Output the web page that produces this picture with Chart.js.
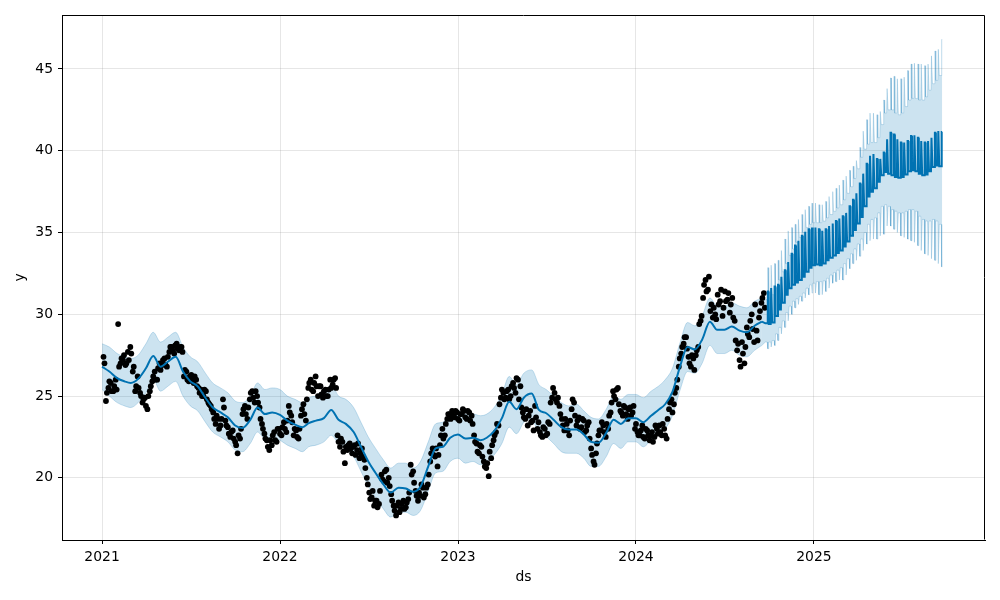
<!DOCTYPE html>
<html>
<head>
<meta charset="utf-8">
<script src="https://cdn.jsdelivr.net/npm/chart.js@4/dist/chart.umd.min.js"></script>
<style>
html,body{margin:0;padding:0;background:#fff;}
canvas{display:block;}
</style>
</head>
<body>
<canvas id="c" width="1000" height="600"></canvas>
<script>
// ---------- DATA ----------
const xTickYears = [2021, 2022, 2023, 2024, 2025];
const yTickValues = [20, 25, 30, 35, 40, 45];

// Observed values y (black dots): two interleaved readings of the dot clouds, each one every 5 days
const obsStartDate = '2021-01-04';
const obsStartDate2 = '2021-01-06';
const obsStepDays = 5;
const obsValues = [
  27.4, 24.7, 25.5, 25.8,  25.3, 26.0, 29.4, 27.0,  27.2, 26.9, 27.7, 28.0,
  26.5, 25.3, 26.2, 25.2,  24.6, 24.9, 24.2, 25.3,  25.9, 26.5, 26.0, 27.0,
  26.9, 27.3, 26.8, 27.7,  28.0, 27.6, 28.2, 27.8,  28.0, 26.2, 26.5, 25.9,
  26.3, 25.8, 26.0, 25.5,  25.4, 25.0, 25.3, 24.6,  24.4, 24.0, 23.3, 23.6,
  23.2, 24.8, 23.5, 23.1,  22.5, 22.9, 22.2, 21.5,  22.4, 23.9, 24.4, 23.6,
  24.8, 25.3, 24.6, 25.0,  24.3, 23.3, 22.7, 22.3,  21.7, 22.0, 22.8, 22.2,
  23.0, 22.6, 23.4, 22.8,  24.4, 23.8, 22.6, 22.9,  22.4, 23.8, 24.5, 23.5,
  25.5, 26.0, 25.3, 26.2,  25.0, 25.6, 24.9, 25.4,  25.0, 26.0, 25.7, 26.1,
  22.6, 21.9, 22.2, 20.9,  21.7, 22.1, 21.5, 22.0,  21.7, 21.2, 21.8, 21.1,
  20.0, 19.1, 18.8, 18.3,  18.6, 18.4, 20.2, 19.8,  20.5, 20.0, 19.0, 18.3,
  17.7, 18.5, 18.1, 18.6,  18.2, 18.7, 20.8, 20.4,  19.2, 18.6, 18.9, 19.4,
  19.0, 19.6, 21.0, 21.8,  21.3, 20.7, 22.0, 23.0,  22.6, 23.6, 23.9, 24.1,
  23.7, 24.0, 23.5, 23.9,  24.1, 23.6, 24.0, 23.8,  22.6, 22.1, 21.5, 21.9,
  21.0, 20.6, 20.1, 21.2,  22.3, 22.8, 23.2, 24.9,  25.2, 24.9, 25.4, 25.0,
  25.8, 25.2, 26.0, 25.6,  24.0, 23.6, 23.2, 24.1,  23.5, 24.4, 23.0, 22.8,
  22.5, 23.0, 22.7, 23.3,  24.9, 25.2, 24.6, 24.4,  23.6, 22.9, 23.3, 22.6,
  24.2, 24.6, 23.2, 23.7,  23.1, 23.5, 22.9, 23.4,  21.8, 21.0, 21.5, 22.6,
  22.9, 23.2, 22.5, 23.0,  24.0, 25.3, 24.8, 25.5,  24.1, 23.8, 24.3, 23.6,
  24.3, 24.0, 23.0, 22.8,  22.6, 23.2, 22.4, 22.9,  22.3, 22.8, 22.5, 23.0,
  23.2, 22.6, 23.0, 22.4,  24.2, 24.8, 24.5, 25.5,  26.8, 27.6, 28.2, 28.6,
  27.4, 26.8, 27.3, 27.5,  28.0, 29.6, 31.0, 32.1,  31.5, 30.2, 29.8, 30.0,
  31.2, 30.8, 29.9, 31.4,  30.9, 30.1, 31.0, 29.6,  27.8, 27.2, 28.3, 27.0,
  29.2, 28.6, 30.0, 28.3,  29.0, 29.8, 30.7, 31.3
];
const obsValues2 = [
  27.0, 25.2, 25.9, 25.3,  25.6, 25.4, 26.8, 27.3,  27.5, 27.0, 27.2, 27.6,
  26.8, 25.6, 25.5, 25.0,  24.8, 24.4, 25.0, 25.6,  26.2, 26.0, 26.7, 26.6,
  27.2, 26.9, 27.4, 28.0,  27.8, 28.1, 27.9, 28.0,  27.7, 26.6, 26.0, 26.2,
  26.0, 26.2, 25.6, 25.2,  25.0, 25.4, 24.8, 24.5,  24.2, 23.6, 23.8, 23.0,
  23.6, 24.3, 23.2, 22.7,  22.8, 22.4, 22.0, 22.6,  23.0, 24.2, 23.9, 24.3,
  25.2, 24.9, 25.3, 24.6,  23.6, 23.0, 22.4, 21.9,  22.3, 22.6, 22.3, 23.0,
  22.7, 23.1, 23.0, 23.5,  24.0, 23.4, 23.0, 22.5,  23.0, 24.2, 23.9, 24.8,
  25.8, 25.4, 25.8, 25.6,  25.6, 25.1, 25.3, 25.0,  25.4, 25.5, 26.0, 25.5,
  22.2, 22.4, 21.6, 21.9,  22.0, 21.8, 21.9, 21.4,  22.1, 21.5, 21.3, 20.6,
  19.6, 18.7, 19.2, 18.6,  18.2, 19.2, 19.9, 20.4,  19.7, 19.5, 18.6, 18.0,
  18.3, 17.9, 18.4, 18.1,  18.5, 19.1, 20.2, 19.7,  18.9, 19.1, 19.6, 18.8,
  19.4, 20.2, 21.5, 21.4,  21.8, 21.4, 22.6, 22.4,  23.3, 23.9, 23.6, 23.8,
  24.1, 23.6, 23.9, 24.2,  23.7, 24.1, 23.5, 23.3,  22.2, 21.6, 22.0, 21.3,
  20.7, 20.9, 21.6, 22.0,  22.6, 23.3, 24.5, 25.4,  24.8, 25.3, 24.8, 25.6,
  25.5, 26.1, 24.8, 24.3,  23.7, 24.2, 23.8, 23.4,  22.9, 23.7, 23.4, 22.6,
  23.1, 22.6, 23.4, 24.6,  25.5, 24.8, 24.9, 23.9,  23.2, 23.6, 22.9, 23.5,
  24.8, 23.8, 23.5, 23.0,  23.6, 22.8, 23.2, 22.4,  21.4, 20.8, 22.1, 22.9,
  23.4, 22.8, 23.3, 23.8,  24.6, 25.0, 25.4, 24.5,  24.0, 24.4, 23.9, 24.2,
  23.8, 24.4, 23.3, 22.6,  22.9, 22.5, 23.0, 22.6,  22.6, 22.2, 23.2, 22.7,
  22.8, 23.3, 22.6, 23.6,  24.6, 24.0, 25.2, 26.0,  27.3, 28.0, 28.6, 27.9,
  27.0, 27.5, 26.6, 27.8,  29.4, 29.9, 31.8, 31.4,  32.3, 30.6, 30.4, 29.7,
  30.6, 31.5, 30.4, 30.8,  31.3, 30.6, 29.8, 28.4,  28.2, 26.8, 27.6, 28.0,
  28.8, 29.6, 29.1, 30.6,  28.4, 30.2, 31.0, 30.4
];

// Fitted yhat and interval over the history, on the 1st and 16th of each month from Jan 2021
const histYhat = [
  26.8, 26.5, 26.1, 25.9, 25.8, 26.05, 26.7, 27.45, 26.8, 27.1,
  27.4, 26.5, 25.9, 25.6, 24.9, 24.3, 24.0, 23.7, 23.2, 23.05,
  23.55, 24.3, 23.9, 24.0, 23.85, 23.5, 23.25, 23.1, 23.35, 23.5,
  23.65, 24.15, 23.55, 23.3, 22.8, 21.9, 21.0, 20.3, 19.6, 19.1,
  19.4, 19.35, 19.15, 19.45, 20.7, 21.8, 21.9, 22.45, 22.65, 22.4,
  22.45, 22.3, 22.45, 22.85, 23.65, 24.65, 24.2, 24.9, 25.15, 24.15,
  23.95, 23.55, 23.1, 22.95, 22.95, 22.65, 22.2, 22.15, 22.75, 23.55,
  23.3, 23.65, 23.65, 23.4, 23.8, 24.15, 24.5, 25.25, 26.85, 28.0,
  27.85, 28.45, 29.55, 29.05, 29.05, 29.25, 29.0, 28.9, 29.3, 29.55
];
const histUpper = [
  28.2, 28.0, 27.6, 27.4, 27.3, 27.5, 28.2, 28.9, 28.3, 28.6,
  28.9, 28.0, 27.4, 27.1, 26.4, 25.8, 25.5, 25.2, 24.7, 24.6,
  25.0, 25.8, 25.4, 25.5, 25.4, 25.0, 24.8, 24.6, 24.9, 25.0,
  25.1, 25.7, 25.0, 24.8, 24.3, 23.4, 22.5, 21.8, 21.1, 20.6,
  20.9, 20.9, 20.6, 21.0, 22.2, 23.3, 23.4, 23.9, 24.1, 23.9,
  23.9, 23.8, 23.9, 24.3, 25.1, 26.2, 25.7, 26.4, 26.6, 25.7,
  25.4, 25.0, 24.6, 24.4, 24.5, 24.1, 23.7, 23.6, 24.2, 25.0,
  24.8, 25.1, 25.1, 24.9, 25.3, 25.6, 26.0, 26.7, 28.3, 29.5,
  29.3, 29.9, 31.0, 30.5, 30.5, 30.7, 30.5, 30.4, 30.8, 31.0
];
const histLower = [
  25.4, 25.0, 24.6, 24.4, 24.3, 24.6, 25.2, 26.0, 25.3, 25.6,
  25.9, 25.0, 24.4, 24.1, 23.4, 22.8, 22.5, 22.2, 21.7, 21.6,
  22.1, 22.8, 22.4, 22.5, 22.3, 22.0, 21.8, 21.6, 21.9, 22.0,
  22.2, 22.6, 22.1, 21.8, 21.3, 20.4, 19.5, 18.8, 18.1, 17.6,
  17.9, 17.9, 17.7, 18.0, 19.2, 20.3, 20.4, 21.0, 21.2, 20.9,
  21.0, 20.8, 21.0, 21.4, 22.1, 23.1, 22.7, 23.4, 23.6, 22.7,
  22.5, 22.1, 21.6, 21.5, 21.5, 21.2, 20.7, 20.7, 21.3, 22.1,
  21.8, 22.2, 22.2, 21.9, 22.3, 22.7, 23.0, 23.8, 25.4, 26.5,
  26.4, 27.0, 28.1, 27.6, 27.6, 27.8, 27.5, 27.4, 27.8, 28.1
];

// Forecast, one value per week starting Monday 2024-09-23: weekday level and weekend level
const fcStartDate = '2024-09-23';
const fcWeekday = [
  29.45, 29.4, 29.5, 29.9, 30.3, 30.7, 31.2, 31.6, 31.8, 31.95,
  32.1, 32.3, 32.6, 32.85, 33.0, 33.05, 33.0, 33.1, 33.3, 33.45,
  33.6, 33.75, 33.9, 34.15, 34.45, 34.8, 35.15, 35.55, 35.95, 36.6,
  37.2, 37.5, 37.7, 38.1, 38.5, 38.7, 38.6, 38.5, 38.4, 38.35,
  38.4, 38.55, 38.75, 38.8, 38.75, 38.6, 38.5, 38.55, 38.75, 39.0,
  39.1, 39.05
];
const fcWeekend = [
  31.4, 31.6, 31.7, 31.8, 32.3, 32.7, 33.2, 33.7, 34.2, 34.5,
  34.8, 35.05, 35.2, 35.3, 35.3, 35.2, 35.1, 35.2, 35.4, 35.55,
  35.7, 35.85, 36.0, 36.2, 36.6, 37.0, 37.4, 38.0, 38.6, 39.2,
  39.7, 39.8, 39.5, 39.5, 39.9, 40.7, 41.1, 41.0, 40.7, 40.5,
  40.5, 40.6, 40.9, 40.95, 40.8, 40.6, 40.5, 40.6, 40.8, 41.1,
  41.2, 41.15
];
const fcUpperWeekday = [
  30.9, 31.0, 31.2, 31.6, 32.1, 32.6, 33.1, 33.6, 34.0, 34.4,
  34.7, 35.0, 35.3, 35.5, 35.6, 35.6, 35.6, 35.7, 35.9, 36.1,
  36.3, 36.5, 36.7, 37.0, 37.4, 37.8, 38.3, 38.9, 39.6, 40.1,
  40.4, 40.5, 40.5, 40.8, 41.6, 42.3, 42.5, 42.5, 42.3, 42.2,
  42.3, 42.7, 43.1, 43.2, 43.2, 43.1, 43.1, 43.3, 43.7, 44.1,
  44.3, 44.6
];
const fcUpperWeekend = [
  32.85, 33.0, 33.1, 33.3, 33.9, 34.6, 35.1, 35.3, 35.5, 35.8,
  36.1, 36.4, 36.6, 36.8, 36.8, 36.7, 36.7, 36.9, 37.2, 37.5,
  37.7, 37.9, 38.2, 38.45, 38.8, 39.05, 39.4, 40.2, 41.2, 41.9,
  42.3, 42.3, 42.2, 42.4, 43.1, 43.8, 44.45, 44.55, 44.4, 44.4,
  44.5, 44.9, 45.3, 45.35, 45.3, 45.3, 45.2, 45.3, 45.8, 46.1,
  46.2, 46.8
];
const fcLowerWeekday = [
  28.3, 28.3, 28.4, 28.8, 29.2, 29.6, 30.1, 30.5, 30.8, 30.95,
  31.1, 31.3, 31.6, 31.8, 31.9, 32.0, 32.0, 32.05, 32.2, 32.4,
  32.55, 32.7, 32.85, 33.1, 33.4, 33.7, 34.0, 34.3, 34.6, 35.0,
  35.5, 35.8, 35.9, 36.2, 36.6, 36.7, 36.6, 36.4, 36.3, 36.2,
  36.2, 36.3, 36.4, 36.4, 36.3, 36.0, 35.8, 35.7, 35.7, 35.8,
  35.7, 35.5
];
const fcLowerWeekend = [
  27.9, 28.0, 28.1, 28.4, 28.8, 29.2, 29.6, 30.0, 30.4, 30.6,
  30.8, 31.0, 31.2, 31.3, 31.3, 31.2, 31.2, 31.4, 31.6, 31.9,
  32.0, 32.1, 32.1, 32.4, 32.8, 33.1, 33.3, 33.55, 33.9, 34.3,
  34.5, 34.6, 34.6, 34.8, 34.9, 35.4, 35.4, 35.2, 35.0, 34.8,
  34.7, 34.6, 34.5, 34.4, 34.2, 33.9, 33.7, 33.6, 33.4, 33.3,
  33.1, 32.9
];

// ---------- BUILD CHART DATA ----------
const DAY = 86400000;
function toMs(s){ const [y,m,d] = s.split('-').map(Number); return Date.UTC(y, m-1, d); }
function fy(t){
  const y = new Date(t).getUTCFullYear();
  const s = Date.UTC(y,0,1), e = Date.UTC(y+1,0,1);
  return y + (t - s) / (e - s);
}
const obsT0 = toMs(obsStartDate), obsT1 = toMs(obsStartDate2);
const obsPts = obsValues.map((v,i) => ({x: fy(obsT0 + i*obsStepDays*DAY), y: v}))
  .concat(obsValues2.map((v,i) => ({x: fy(obsT1 + i*obsStepDays*DAY), y: v})));

const histX = histYhat.map((_,k) => fy(Date.UTC(2021, Math.floor(k/2), (k % 2) ? 16 : 1)));
const mk = (arr) => arr.map((v,i) => ({x: histX[i], y: v}));
const histLine = mk(histYhat), histUp = mk(histUpper), histLo = mk(histLower);

const fcT0 = toMs(fcStartDate);
function weekly(wd, we){
  const pts = [];
  wd.forEach((v,w) => {
    const m = fcT0 + 7*w*DAY;
    pts.push({x: fy(m), y: v}, {x: fy(m+4*DAY), y: v},
             {x: fy(m+5*DAY), y: we[w]}, {x: fy(m+6*DAY), y: we[w]});
  });
  return pts;
}
const last = histX.length - 1;
const fcLine = [histLine[last]].concat(weekly(fcWeekday, fcWeekend));
const fcUp = [histUp[last]].concat(weekly(fcUpperWeekday, fcUpperWeekend));
const fcLo = [histLo[last]].concat(weekly(fcLowerWeekday, fcLowerWeekend));

// ---------- STYLE ----------
const BLUE = '#0072B2';
const BAND = 'rgba(0,114,178,0.2)';
const FONT = {family: "'DejaVu Sans', sans-serif", size: 13.9};

const framePlugin = {
  id: 'frame',
  beforeDraw(c){ const x=c.ctx; x.save(); x.fillStyle='#fff'; x.fillRect(0,0,c.width,c.height); x.restore(); },
  afterDraw(c){
    const {ctx, chartArea:a} = c;
    ctx.save();
    ctx.strokeStyle = '#000'; ctx.lineWidth = 1;
    ctx.beginPath();
    const L = Math.round(a.left)+0.5, R = Math.round(a.right)-0.5, T = Math.round(a.top)+0.5, B = Math.round(a.bottom)-0.5;
    ctx.moveTo(L, T); ctx.lineTo(R, T); ctx.lineTo(R, B);
    ctx.stroke();
    ctx.restore();
  }
};

const lineDs = (data, extra) => Object.assign({
  data, borderColor: BLUE, borderWidth: 2, pointRadius: 0, fill: false, order: 0
}, extra);
const bandDs = (data, extra) => Object.assign({
  data, borderColor: BAND, borderWidth: 1, backgroundColor: BAND, pointRadius: 0
}, extra);

new Chart(document.getElementById('c'), {
  type: 'line',
  data: {
    datasets: [
      lineDs(histLine, {cubicInterpolationMode: 'monotone'}),
      lineDs(fcLine, {tension: 0}),
      {data: obsPts, showLine: false, pointRadius: 2.9, pointBackgroundColor: '#000',
       pointBorderWidth: 0, pointBorderColor: '#000', order: 1},
      bandDs(histUp, {fill: '+1', cubicInterpolationMode: 'monotone', order: 2}),
      bandDs(histLo, {fill: false, cubicInterpolationMode: 'monotone', order: 3}),
      bandDs(fcUp, {fill: '+1', tension: 0, order: 4}),
      bandDs(fcLo, {fill: false, tension: 0, order: 5})
    ]
  },
  options: {
    responsive: false,
    animation: false,
    devicePixelRatio: 1,
    events: [],
    layout: {padding: {top: 15, right: 15, left: 0, bottom: 0}},
    plugins: {legend: {display: false}, tooltip: {enabled: false}},
    scales: {
      x: {
        type: 'linear', min: 2020.775, max: 2025.961,
        afterBuildTicks: (s) => { s.ticks = xTickYears.map(v => ({value: v})); },
        afterFit: (s) => { s.height = 60; },
        ticks: {callback: (v) => String(v), color: '#000', font: FONT, padding: 5, maxRotation: 0, autoSkip: false},
        grid: {color: 'rgba(128,128,128,0.2)', lineWidth: 1, tickColor: '#000', tickLength: 4, drawTicks: true},
        border: {display: true, color: '#000', width: 1},
        title: {display: true, text: 'ds', color: '#000', font: FONT, padding: {top: 0, bottom: 14.6}}
      },
      y: {
        type: 'linear', min: 16.2, max: 48.3,
        afterBuildTicks: (s) => { s.ticks = yTickValues.map(v => ({value: v})); },
        afterFit: (s) => { s.width = 62; },
        ticks: {callback: (v) => String(v), color: '#000', font: FONT, padding: 5},
        grid: {color: 'rgba(128,128,128,0.2)', lineWidth: 1, tickColor: '#000', tickLength: 4, drawTicks: true},
        border: {display: true, color: '#000', width: 1},
        title: {display: true, text: 'y', color: '#000', font: FONT, padding: {top: 11.6, bottom: 0}}
      }
    }
  },
  plugins: [framePlugin]
});
</script>
</body>
</html>
